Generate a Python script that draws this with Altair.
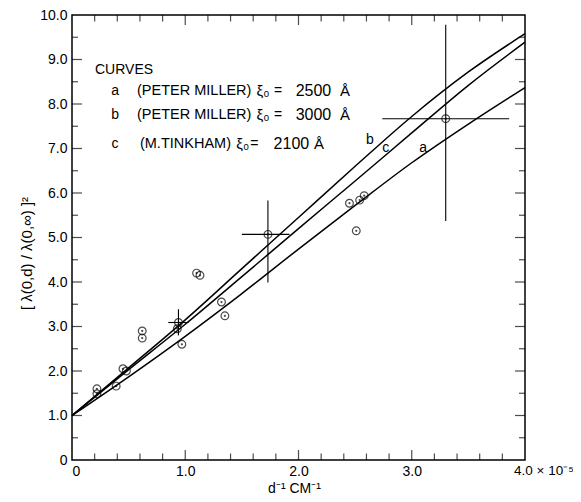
import altair as alt
import pandas as pd

# ---------------- data ----------------
pt_x = [0.22, 0.22, 0.39, 0.45, 0.48, 0.62, 0.62, 0.93, 0.94, 0.97, 1.10, 1.13, 1.32, 1.35, 1.73, 2.45, 2.51, 2.54, 2.58, 3.30]
pt_y = [1.60, 1.49, 1.66, 2.05, 2.00, 2.90, 2.74, 2.95, 3.09, 2.60, 4.20, 4.15, 3.55, 3.24, 5.07, 5.77, 5.15, 5.84, 5.94, 7.67]

# error bars: centre x, centre y, x-low, x-high, y-low, y-high
err_x = [0.94, 1.73, 3.30]
err_y = [3.09, 5.07, 7.67]
err_xlo = [0.85, 1.50, 2.74]
err_xhi = [1.03, 1.92, 3.86]
err_ylo = [2.80, 3.99, 5.37]
err_yhi = [3.39, 5.83, 9.78]

curve_x = [0.0, 0.5, 1.0, 1.5, 2.0, 2.5, 3.0, 3.5, 4.0]
curve_a = [1.0, 1.87, 2.78, 3.74, 4.74, 5.72, 6.68, 7.55, 8.37]
curve_b = [1.0, 2.07, 3.15, 4.30, 5.45, 6.60, 7.72, 8.72, 9.58]
curve_c = [1.0, 2.03, 3.05, 4.12, 5.20, 6.27, 7.35, 8.42, 9.39]

curve_lbl = ["b", "c", "a"]
curve_lbl_x = [2.63, 2.77, 3.10]
curve_lbl_y = [7.20, 7.02, 7.02]

# legend block (written inside the plot)
legend_head = "CURVES"
legend_head_pos = (0.203, 8.77)
legend_y = [8.30, 7.76, 7.09]
legend_letters = ["a", "b", "c"]
legend_letter_x = 0.38
legend_who = ["(PETER MILLER)", "(PETER MILLER)", "(M.TINKHAM)"]
legend_who_x = [0.574, 0.574, 0.60]
legend_xi = ["ξ₀", "ξ₀", "ξ₀"]
legend_xi_x = [1.63, 1.63, 1.45]
legend_eq_x = [1.82, 1.82, 1.61]
legend_num = ["2500", "3000", "2100"]
legend_num_x = [1.975, 1.975, 1.78]
legend_ang_x = [2.41, 2.41, 2.18]

x_major = [0, 1, 2, 3]
y_major = list(range(0, 11))
x_ticks = [round(0.2 * i, 1) for i in range(1, 20)]
y_ticks = [round(0.5 * i, 1) for i in range(1, 20)]

W, H = 453, 445
FONT = "Liberation Sans"

xs = alt.Scale(domain=[0, 4], nice=False, zero=False)
ys = alt.Scale(domain=[0, 10], nice=False, zero=False)

curves = pd.DataFrame({
    "x": curve_x * 3,
    "y": curve_a + curve_b + curve_c,
    "curve": ["a"] * len(curve_x) + ["b"] * len(curve_x) + ["c"] * len(curve_x),
})
pts = pd.DataFrame({"x": pt_x, "y": pt_y})
errs = pd.DataFrame({"x": err_x, "y": err_y, "xlo": err_xlo, "xhi": err_xhi,
                     "ylo": err_ylo, "yhi": err_yhi})

xaxis = alt.Axis(values=x_major, ticks=False, domain=False, grid=False,
                 labelExpr="datum.value == 0 ? '0' : format(datum.value, '.1f')",
                 labelFont=FONT, labelFontSize=14, labelColor="black", labelPadding=4,
                 title="d⁻¹  CM⁻¹", titleFont=FONT, titleFontSize=14, titleFontWeight="normal",
                 titleColor="black", titleX=222, titleY=28, titleBaseline="middle")
yaxis = alt.Axis(values=y_major, ticks=False, domain=False, grid=False,
                 labelExpr="datum.value == 0 ? '0' : format(datum.value, '.1f')",
                 labelFont=FONT, labelFontSize=14, labelColor="black", labelPadding=5,
                 title="[ λ(0,d) / λ(0,∞) ]²", titleFont=FONT, titleFontSize=15,
                 titleFontWeight="normal", titleColor="black", titleAngle=-90,
                 titleX=-46, titleY=238, titleAlign="center", titleBaseline="middle")

X = alt.X("x:Q", scale=xs)
Y = alt.Y("y:Q", scale=ys)

line_layer = alt.Chart(curves).mark_line(color="black", strokeWidth=1.5, interpolate="monotone").encode(
    x=alt.X("x:Q", scale=xs, axis=xaxis),
    y=alt.Y("y:Q", scale=ys, axis=yaxis),
    detail="curve:N",
)

circ = alt.Chart(pts).mark_point(shape="circle", size=60, color="black", strokeWidth=1.2, filled=False).encode(x=X, y=Y)
dots = alt.Chart(pts).mark_point(shape="circle", size=5, color="black", filled=True).encode(x=X, y=Y)

eh = alt.Chart(errs).mark_rule(color="black", strokeWidth=1.1).encode(
    x=alt.X("xlo:Q", scale=xs), x2="xhi:Q", y=Y)
ev = alt.Chart(errs).mark_rule(color="black", strokeWidth=1.1).encode(
    x=X, y=alt.Y("ylo:Q", scale=ys), y2="yhi:Q")

# inward ticks (centered on the frame and clipped to the plot area)
def xtick_df(yv):
    return pd.DataFrame({"x": x_ticks, "y": [yv] * len(x_ticks),
                         "major": [abs(v - round(v)) < 1e-9 for v in x_ticks]})

def ytick_df(xv):
    return pd.DataFrame({"x": [xv] * len(y_ticks), "y": y_ticks,
                         "major": [abs(v - round(v)) < 1e-9 for v in y_ticks]})

tick_layers = []
for df in (xtick_df(0), xtick_df(10)):
    tick_layers.append(alt.Chart(df).mark_tick(color="black", thickness=1.2, orient="vertical", clip=True).encode(
        x=X, y=Y, size=alt.condition("datum.major", alt.value(20), alt.value(13))))
for df in (ytick_df(0), ytick_df(4)):
    tick_layers.append(alt.Chart(df).mark_tick(color="black", thickness=1.2, orient="horizontal", clip=True).encode(
        x=X, y=Y, size=alt.condition("datum.major", alt.value(20), alt.value(12))))

lbl4 = alt.Chart(pd.DataFrame({"x": [4.0], "y": [0.0], "t": ["4.0 × 10⁻⁵"]})).mark_text(
    align="left", baseline="middle", dx=-11, dy=11, font=FONT, fontSize=13.5, color="black").encode(
    x=X, y=Y, text="t:N")

clbl = alt.Chart(pd.DataFrame({"x": curve_lbl_x, "y": curve_lbl_y, "t": curve_lbl})).mark_text(
    align="center", baseline="middle", font=FONT, fontSize=14, color="black").encode(
    x=X, y=Y, text="t:N")


def text_layer(xv, yv, tv, align="left", size=14):
    df = pd.DataFrame({"x": xv, "y": yv, "t": tv})
    return alt.Chart(df).mark_text(align=align, baseline="middle", font=FONT, fontSize=size,
                                   color="black").encode(x=X, y=Y, text="t:N")


leg_layers = [
    text_layer([legend_head_pos[0]], [legend_head_pos[1]], [legend_head]),
    text_layer([legend_letter_x] * 3, legend_y, legend_letters, align="center"),
    text_layer(legend_who_x, legend_y, legend_who, size=14.5),
    text_layer(legend_xi_x, legend_y, legend_xi, size=15),
    text_layer(legend_eq_x, legend_y, ["="] * 3, align="center"),
    text_layer(legend_num_x, legend_y, legend_num, size=16),
    text_layer(legend_ang_x, legend_y, ["Å"] * 3, align="center", size=15),
]

chart = alt.layer(line_layer, circ, dots, eh, ev, *tick_layers, lbl4, clbl, *leg_layers).properties(
    width=W, height=H,
    autosize=alt.AutoSizeParams(type="none"),
    padding={"left": 64, "top": 7, "right": 48, "bottom": 40},
    background="white",
).configure_view(stroke="black", strokeWidth=1.5)

chart.save("out.html", embed_options={"renderer": "svg", "actions": False})
